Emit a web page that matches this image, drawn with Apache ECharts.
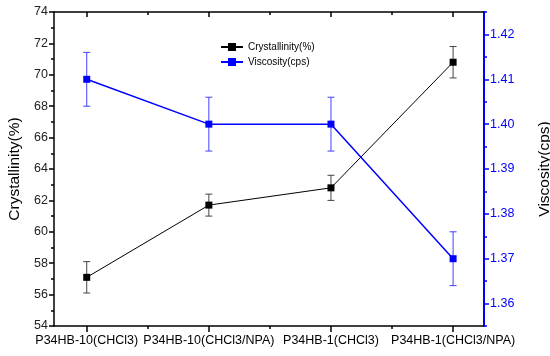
<!DOCTYPE html>
<html>
<head>
<meta charset="utf-8">
<script src="https://cdn.jsdelivr.net/npm/echarts@6/dist/echarts.min.js"></script>
<style>html,body{margin:0;padding:0;background:#fff}#c{width:550px;height:356px}</style>
</head>
<body>
<div id="c"></div>
<script>
var categories = ['P34HB-10(CHCl3)', 'P34HB-10(CHCl3/NPA)', 'P34HB-1(CHCl3)', 'P34HB-1(CHCl3/NPA)'];
var crystallinity = [57.1, 61.7, 62.8, 70.8];
var crystErr = [1.0, 0.7, 0.8, 1.0];
var viscosity = [1.410, 1.400, 1.400, 1.370];
var viscErr = [0.006, 0.006, 0.006, 0.006];
var catPos = [1, 2, 3, 4];
var catMinor = [1.5, 2.5, 3.5];
var viscTicks = [1.36, 1.37, 1.38, 1.39, 1.40, 1.41, 1.42];
var viscMinor = [1.355, 1.365, 1.375, 1.385, 1.395, 1.405, 1.415, 1.425];

var FONT = 'Liberation Sans, Arial, sans-serif';
var chart = echarts.init(document.getElementById('c'));

function errSeries(name, yIdx, vals, errs, color) {
  return {
    type: 'custom', name: name + 'err', xAxisIndex: 0, yAxisIndex: yIdx, z: 3,
    silent: true,
    data: vals.map(function (v, i) { return [catPos[i], v - errs[i], v + errs[i]]; }),
    encode: { x: 0, y: [1, 2] },
    renderItem: function (params, api) {
      var x = api.value(0);
      var lo = api.coord([x, api.value(1)]);
      var hi = api.coord([x, api.value(2)]);
      var w = 3.5;
      var st = { stroke: color, lineWidth: 1 };
      return { type: 'group', children: [
        { type: 'line', shape: { x1: lo[0], y1: lo[1], x2: hi[0], y2: hi[1] }, style: st },
        { type: 'line', shape: { x1: lo[0] - w, y1: lo[1], x2: lo[0] + w, y2: lo[1] }, style: st },
        { type: 'line', shape: { x1: hi[0] - w, y1: hi[1], x2: hi[0] + w, y2: hi[1] }, style: st }
      ]};
    }
  };
}

var xMin = 0.732, xMax = 4.253;
var option = {
  animation: false,
  grid: { left: 54, right: 66, top: 12, bottom: 30, containLabel: false, outerBoundsMode: 'none' },
  legend: {
    orient: 'vertical', left: 220, top: 42, padding: 0, itemWidth: 22, itemHeight: 10, itemGap: 5,
    textStyle: { fontFamily: FONT, fontSize: 10, color: '#000' },
    data: ['Crystallinity(%)', 'Viscosity(cps)']
  },
  xAxis: [
    { type: 'value', position: 'bottom', min: xMin, max: xMax,
      axisLine: { show: true, lineStyle: { color: '#000', width: 1.5 } },
      axisTick: { show: true, customValues: catPos, length: 6, lineStyle: { color: '#000', width: 1.5 } },
      axisLabel: { customValues: catPos, margin: 8, fontFamily: FONT, fontSize: 12.5, color: '#000',
        formatter: function (v) { return categories[Math.round(v) - 1] || ''; } },
      splitLine: { show: false } },
    { type: 'value', position: 'bottom', min: xMin, max: xMax,
      axisLine: { show: false },
      axisTick: { show: true, customValues: catMinor, length: 3, lineStyle: { color: '#000', width: 1.5 } },
      axisLabel: { show: false }, splitLine: { show: false } },
    { type: 'value', position: 'top', min: xMin, max: xMax,
      axisLine: { show: true, lineStyle: { color: '#000', width: 1.5 } },
      axisTick: { show: true, inside: true, customValues: catPos, length: 5, lineStyle: { color: '#000', width: 1.5 } },
      axisLabel: { show: false }, splitLine: { show: false } },
    { type: 'value', position: 'top', min: xMin, max: xMax,
      axisLine: { show: false },
      axisTick: { show: true, inside: true, customValues: catMinor, length: 3, lineStyle: { color: '#000', width: 1.5 } },
      axisLabel: { show: false }, splitLine: { show: false } }
  ],
  yAxis: [
    { type: 'value', position: 'left', min: 54, max: 74, interval: 2,
      name: 'Crystallinity(%)', nameLocation: 'middle', nameRotate: 90, nameGap: 29,
      nameTextStyle: { fontFamily: FONT, fontSize: 15.5, color: '#000' },
      axisLine: { show: true, lineStyle: { color: '#000', width: 1.5 } },
      axisTick: { show: true, length: 5, lineStyle: { color: '#000', width: 1.5 } },
      minorTick: { show: true, splitNumber: 2, length: 3, lineStyle: { color: '#000', width: 1.5 } },
      axisLabel: { fontFamily: FONT, fontSize: 12.5, color: '#222', margin: 6 },
      splitLine: { show: false } },
    { type: 'value', position: 'right', min: 1.355, max: 1.425,
      name: 'Viscosity(cps)', nameLocation: 'middle', nameRotate: 90, nameGap: 53,
      nameTextStyle: { fontFamily: FONT, fontSize: 15.5, color: '#000' },
      axisLine: { show: true, lineStyle: { color: '#0000ff', width: 2 } },
      axisTick: { show: true, customValues: viscTicks, length: 5, lineStyle: { color: '#0000ff', width: 1.5 } },
      axisLabel: { customValues: viscTicks, fontFamily: FONT, fontSize: 12.5, color: '#0000ff', margin: 6,
        formatter: function (v) { return v.toFixed(2); } },
      splitLine: { show: false } },
    { type: 'value', position: 'right', min: 1.355, max: 1.425,
      axisLine: { show: false },
      axisTick: { show: true, customValues: viscMinor, length: 3, lineStyle: { color: '#0000ff', width: 1.5 } },
      axisLabel: { show: false }, splitLine: { show: false } }
  ],
  series: [
    errSeries('Crystallinity(%)', 0, crystallinity, crystErr, '#444'),
    errSeries('Viscosity(cps)', 1, viscosity, viscErr, '#4040ff'),
    { type: 'line', name: 'Crystallinity(%)', xAxisIndex: 0, yAxisIndex: 0, z: 4,
      data: crystallinity.map(function (v, i) { return [catPos[i], v]; }),
      symbol: 'rect', symbolSize: 7, itemStyle: { color: '#000' },
      lineStyle: { color: '#000', width: 1 } },
    { type: 'line', name: 'Viscosity(cps)', xAxisIndex: 0, yAxisIndex: 1, z: 4,
      data: viscosity.map(function (v, i) { return [catPos[i], v]; }),
      symbol: 'rect', symbolSize: 7, itemStyle: { color: '#0000ff' },
      lineStyle: { color: '#0000ff', width: 1.5 } }
  ]
};
chart.setOption(option);
</script>
</body>
</html>
